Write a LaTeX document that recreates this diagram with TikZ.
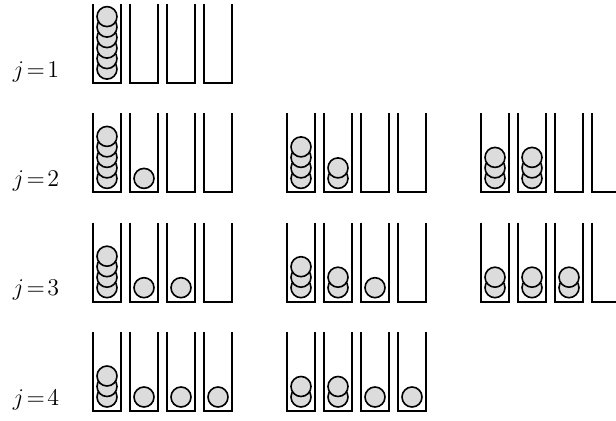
\documentclass[tikz,border=0pt]{standalone}
\usepackage{amsmath}
\usepackage{xcolor}
\definecolor{ball}{RGB}{220,220,220}

\begin{document}
\begin{tikzpicture}[x=0.5pt, y=0.5pt]
\useasboundingbox (0,0) rectangle (616,420);
\clip (0,0) rectangle (616,420);

% labels
\foreach \j in {1,...,4}{
  \node[anchor=base, inner sep=0pt, font=\fontsize{12}{14}\selectfont] (lab\j)
    at (36, {9+(4-\j)*109.3+6}) {$j\!=\!\j$};
}

% row / group / balls in each tube
\foreach \j/\g/\na/\nb/\nc/\nd in {1/0/6/0/0/0, 2/0/5/1/0/0, 2/1/4/2/0/0, 2/2/3/3/0/0,
    3/0/4/1/1/0, 3/1/3/2/1/0, 3/2/2/2/2/0, 4/0/3/1/1/1, 4/1/2/2/1/1}{
  \begin{scope}[shift={(93+194*\g, {9+(4-\j)*109.3})}]
    \foreach \n [count=\k from 0] in {\na,\nb,\nc,\nd}{
      \draw[line width=1pt] (37*\k,79) -- (37*\k,0) -- (37*\k+28,0) -- (37*\k+28,79);
      \ifnum\n>0
        \foreach \b in {1,...,\n}{
          \draw[fill=ball, line width=0.8pt] (37*\k+14,{14+10.5*(\b-1)}) circle (5pt);
        }
      \fi
    }
  \end{scope}
}

\end{tikzpicture}
\end{document}
